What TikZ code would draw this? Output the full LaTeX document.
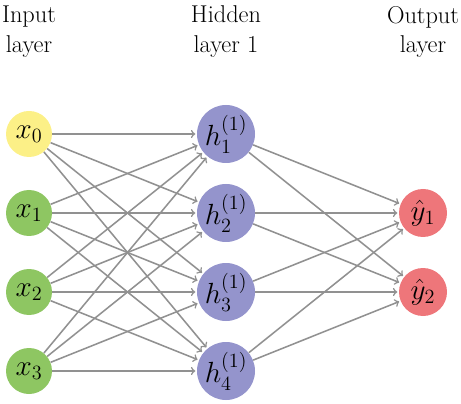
\documentclass[tikz,border=0pt]{standalone}
\usepackage{amsmath,amssymb}
\usepackage{tikz}

\definecolor{inyellow}{RGB}{252,240,135}
\definecolor{ingreen}{RGB}{142,198,98}
\definecolor{hidpurple}{RGB}{148,148,204}
\definecolor{outred}{RGB}{238,118,122}
\definecolor{edgegray}{RGB}{145,145,145}

\begin{document}
\begin{tikzpicture}[
    neuron/.style={circle, inner sep=0pt, font=\fontsize{21}{25}\selectfont},
    bias/.style={neuron, fill=inyellow, minimum size=1.15cm},
    inp/.style={neuron, fill=ingreen, minimum size=1.15cm},
    hid/.style={neuron, fill=hidpurple, minimum size=1.45cm},
    outp/.style={neuron, fill=outred, minimum size=1.2cm},
    edge/.style={->, edgegray, line width=1.1pt, shorten >=1pt},
    title/.style={align=center, font=\fontsize{17.3}{21.3}\selectfont}
  ]
      \useasboundingbox (0,0) rectangle (11.525,10.075);

       % layer titles
      \node[title] (tin) at (0.725,9.275) {Input\\layer};
      \node[title] (thid) at (5.65,9.275) {Hidden\\layer 1};
      \node[title] (tout) at (10.575,9.275) {Output\\layer};

       % input layer
      \node[bias] (x0) at (0.725,6.725) {$x_0$};
      \node[inp] (x1) at (0.725,4.75) {$x_1$};
      \node[inp] (x2) at (0.725,2.775) {$x_2$};
      \node[inp] (x3) at (0.725,0.8) {$x_3$};

       % hidden layer
      \node[hid] (h1) at (5.65,6.725) {$h_1^{(1)}$};
      \node[hid] (h2) at (5.65,4.75) {$h_2^{(1)}$};
      \node[hid] (h3) at (5.65,2.775) {$h_3^{(1)}$};
      \node[hid] (h4) at (5.65,0.8) {$h_4^{(1)}$};

       % output layer
      \node[outp] (y1) at (10.575,4.75) {$\hat{y}_1$};
      \node[outp] (y2) at (10.575,2.775) {$\hat{y}_2$};

       % x_0
      \draw[edge] (x0) -- (h1);
      \draw[edge] (x0) -- (h2);
      \draw[edge] (x0) -- (h3);
      \draw[edge] (x0) -- (h4);

       % x_1
      \draw[edge] (x1) -- (h1);
      \draw[edge] (x1) -- (h2);
      \draw[edge] (x1) -- (h3);
      \draw[edge] (x1) -- (h4);

       % x_2
      \draw[edge] (x2) -- (h1);
      \draw[edge] (x2) -- (h2);
      \draw[edge] (x2) -- (h3);
      \draw[edge] (x2) -- (h4);

       % x_3
      \draw[edge] (x3) -- (h1);
      \draw[edge] (x3) -- (h2);
      \draw[edge] (x3) -- (h3);
      \draw[edge] (x3) -- (h4);

      % hidden to output
      \draw[edge] (h1) -- (y1);
      \draw[edge] (h1) -- (y2);
      \draw[edge] (h2) -- (y1);
      \draw[edge] (h2) -- (y2);
      \draw[edge] (h3) -- (y1);
      \draw[edge] (h3) -- (y2);
      \draw[edge] (h4) -- (y1);
      \draw[edge] (h4) -- (y2);
    \end{tikzpicture}
\end{document}
